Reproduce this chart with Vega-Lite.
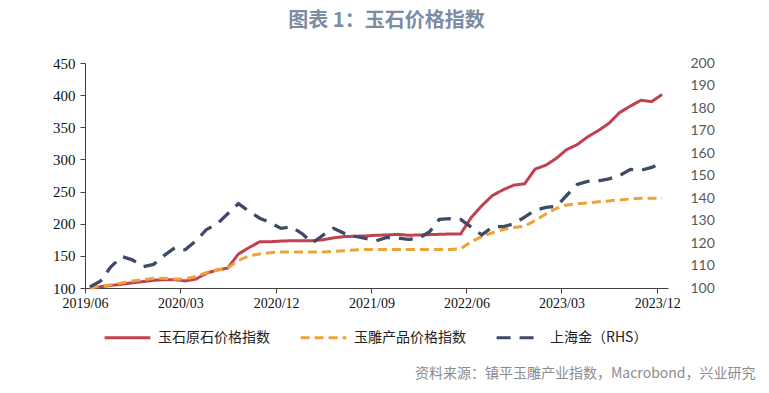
{
  "$schema": "https://vega.github.io/schema/vega-lite/v6.json",
  "width": 583,
  "height": 225,
  "autosize": "none",
  "padding": {"left": 85, "top": 63, "right": 101, "bottom": 105},
  "background": "white",
  "title": {
    "text": "图表 1：玉石价格指数",
    "font": "Noto Sans CJK SC",
    "fontSize": 20,
    "fontWeight": "bold",
    "color": "#7D8CA3",
    "anchor": "middle",
    "frame": "group",
    "dx": 10,
    "offset": 25
  },
  "data": {
    "values": [
      {"date": "2019-06-15", "玉石原石价格指数": 100, "玉雕产品价格指数": 100, "上海金（RHS）": 100.5},
      {"date": "2019-07-15", "玉石原石价格指数": 102, "玉雕产品价格指数": 103, "上海金（RHS）": 103},
      {"date": "2019-08-15", "玉石原石价格指数": 104, "玉雕产品价格指数": 105, "上海金（RHS）": 109.5},
      {"date": "2019-09-15", "玉石原石价格指数": 106, "玉雕产品价格指数": 108, "上海金（RHS）": 114},
      {"date": "2019-10-15", "玉石原石价格指数": 108, "玉雕产品价格指数": 111, "上海金（RHS）": 112.5},
      {"date": "2019-11-15", "玉石原石价格指数": 110, "玉雕产品价格指数": 113, "上海金（RHS）": 109.5},
      {"date": "2019-12-15", "玉石原石价格指数": 112, "玉雕产品价格指数": 115, "上海金（RHS）": 110.5},
      {"date": "2020-01-15", "玉石原石价格指数": 113, "玉雕产品价格指数": 115, "上海金（RHS）": 114.5},
      {"date": "2020-02-15", "玉石原石价格指数": 113, "玉雕产品价格指数": 114, "上海金（RHS）": 118},
      {"date": "2020-03-15", "玉石原石价格指数": 111, "玉雕产品价格指数": 114, "上海金（RHS）": 117},
      {"date": "2020-04-15", "玉石原石价格指数": 114, "玉雕产品价格指数": 118, "上海金（RHS）": 121},
      {"date": "2020-05-15", "玉石原石价格指数": 123, "玉雕产品价格指数": 124, "上海金（RHS）": 126},
      {"date": "2020-06-15", "玉石原石价格指数": 128, "玉雕产品价格指数": 128, "上海金（RHS）": 128.5},
      {"date": "2020-07-15", "玉石原石价格指数": 131, "玉雕产品价格指数": 131, "上海金（RHS）": 133},
      {"date": "2020-08-15", "玉石原石价格指数": 153, "玉雕产品价格指数": 143, "上海金（RHS）": 137.5},
      {"date": "2020-09-15", "玉石原石价格指数": 163, "玉雕产品价格指数": 150, "上海金（RHS）": 134},
      {"date": "2020-10-15", "玉石原石价格指数": 172, "玉雕产品价格指数": 153, "上海金（RHS）": 131},
      {"date": "2020-11-15", "玉石原石价格指数": 172, "玉雕产品价格指数": 155, "上海金（RHS）": 129},
      {"date": "2020-12-15", "玉石原石价格指数": 173, "玉雕产品价格指数": 156, "上海金（RHS）": 126.5},
      {"date": "2021-01-15", "玉石原石价格指数": 173.5, "玉雕产品价格指数": 156, "上海金（RHS）": 127.2},
      {"date": "2021-02-15", "玉石原石价格指数": 173.5, "玉雕产品价格指数": 156, "上海金（RHS）": 124},
      {"date": "2021-03-15", "玉石原石价格指数": 173.6, "玉雕产品价格指数": 156, "上海金（RHS）": 120},
      {"date": "2021-04-15", "玉石原石价格指数": 175, "玉雕产品价格指数": 156, "上海金（RHS）": 123.5},
      {"date": "2021-05-15", "玉石原石价格指数": 178, "玉雕产品价格指数": 157, "上海金（RHS）": 126.5},
      {"date": "2021-06-15", "玉石原石价格指数": 180, "玉雕产品价格指数": 158, "上海金（RHS）": 124.3},
      {"date": "2021-07-15", "玉石原石价格指数": 180.5, "玉雕产品价格指数": 159, "上海金（RHS）": 123},
      {"date": "2021-08-15", "玉石原石价格指数": 181, "玉雕产品价格指数": 160, "上海金（RHS）": 122},
      {"date": "2021-09-15", "玉石原石价格指数": 182, "玉雕产品价格指数": 160, "上海金（RHS）": 121},
      {"date": "2021-10-15", "玉石原石价格指数": 182.5, "玉雕产品价格指数": 160, "上海金（RHS）": 122.5},
      {"date": "2021-11-15", "玉石原石价格指数": 183.5, "玉雕产品价格指数": 160, "上海金（RHS）": 122.3},
      {"date": "2021-12-15", "玉石原石价格指数": 182, "玉雕产品价格指数": 160, "上海金（RHS）": 121.6},
      {"date": "2022-01-15", "玉石原石价格指数": 182.5, "玉雕产品价格指数": 160, "上海金（RHS）": 122},
      {"date": "2022-02-15", "玉石原石价格指数": 183, "玉雕产品价格指数": 160, "上海金（RHS）": 125},
      {"date": "2022-03-15", "玉石原石价格指数": 183.5, "玉雕产品价格指数": 160, "上海金（RHS）": 130.5},
      {"date": "2022-04-15", "玉石原石价格指数": 184, "玉雕产品价格指数": 160, "上海金（RHS）": 130.8},
      {"date": "2022-05-15", "玉石原石价格指数": 184, "玉雕产品价格指数": 161, "上海金（RHS）": 130.5},
      {"date": "2022-06-15", "玉石原石价格指数": 210, "玉雕产品价格指数": 172, "上海金（RHS）": 127},
      {"date": "2022-07-15", "玉石原石价格指数": 228, "玉雕产品价格指数": 180, "上海金（RHS）": 123.6},
      {"date": "2022-08-15", "玉石原石价格指数": 244, "玉雕产品价格指数": 186, "上海金（RHS）": 127.2},
      {"date": "2022-09-15", "玉石原石价格指数": 253, "玉雕产品价格指数": 191, "上海金（RHS）": 127.3},
      {"date": "2022-10-15", "玉石原石价格指数": 260, "玉雕产品价格指数": 194, "上海金（RHS）": 128.5},
      {"date": "2022-11-15", "玉石原石价格指数": 262, "玉雕产品价格指数": 196, "上海金（RHS）": 131.5},
      {"date": "2022-12-15", "玉石原石价格指数": 285, "玉雕产品价格指数": 205, "上海金（RHS）": 134.5},
      {"date": "2023-01-15", "玉石原石价格指数": 291, "玉雕产品价格指数": 215, "上海金（RHS）": 135.8},
      {"date": "2023-02-15", "玉石原石价格指数": 302, "玉雕产品价格指数": 224, "上海金（RHS）": 136.4},
      {"date": "2023-03-15", "玉石原石价格指数": 315, "玉雕产品价格指数": 229, "上海金（RHS）": 141},
      {"date": "2023-04-15", "玉石原石价格指数": 323, "玉雕产品价格指数": 231, "上海金（RHS）": 146},
      {"date": "2023-05-15", "玉石原石价格指数": 335, "玉雕产品价格指数": 232.5, "上海金（RHS）": 147.4},
      {"date": "2023-06-15", "玉石原石价格指数": 345, "玉雕产品价格指数": 234, "上海金（RHS）": 147.6},
      {"date": "2023-07-15", "玉石原石价格指数": 356, "玉雕产品价格指数": 235.5, "上海金（RHS）": 148.5},
      {"date": "2023-08-15", "玉石原石价格指数": 373, "玉雕产品价格指数": 237, "上海金（RHS）": 150},
      {"date": "2023-09-15", "玉石原石价格指数": 383, "玉雕产品价格指数": 238.5, "上海金（RHS）": 152.7},
      {"date": "2023-10-15", "玉石原石价格指数": 392, "玉雕产品价格指数": 239.5, "上海金（RHS）": 152.3},
      {"date": "2023-11-15", "玉石原石价格指数": 390, "玉雕产品价格指数": 239.5, "上海金（RHS）": 153.6},
      {"date": "2023-12-15", "玉石原石价格指数": 401, "玉雕产品价格指数": 239.5, "上海金（RHS）": 155.7}
    ]
  },
  "transform": [
    {"fold": ["玉石原石价格指数", "玉雕产品价格指数", "上海金（RHS）"], "as": ["series", "value"]}
  ],
  "encoding": {
    "x": {
      "field": "date",
      "type": "temporal",
      "scale": {"domain": [{"year": 2019, "month": 6, "date": 1}, {"year": 2024, "month": 1, "date": 1}], "nice": false},
      "axis": {
        "values": [
          {"year": 2019, "month": 6, "date": 1},
          {"year": 2020, "month": 3, "date": 1},
          {"year": 2020, "month": 12, "date": 1},
          {"year": 2021, "month": 9, "date": 1},
          {"year": 2022, "month": 6, "date": 1},
          {"year": 2023, "month": 3, "date": 1},
          {"year": 2023, "month": 12, "date": 1}
        ],
        "format": "%Y/%m",
        "labelFont": "Liberation Serif",
        "labelFontSize": 14,
        "labelColor": "#111",
        "labelPadding": 3,
        "labelFlush": false,
        "labelOverlap": false,
        "domainColor": "#404040",
        "tickColor": "#404040",
        "tickSize": 5,
        "grid": false,
        "title": "资料来源：镇平玉雕产业指数，Macrobond，兴业研究",
        "titleFont": "Noto Sans CJK SC",
        "titleFontSize": 14,
        "titleFontWeight": "normal",
        "titleColor": "#8C8C8C",
        "titleAlign": "right",
        "titleBaseline": "middle",
        "titleX": 670,
        "titleY": 85
      }
    },
    "color": {
      "field": "series",
      "type": "nominal",
      "title": null,
      "scale": {
        "domain": ["玉石原石价格指数", "玉雕产品价格指数", "上海金（RHS）"],
        "range": ["#C0424F", "#EDA33A", "#3E4B66"]
      }
    },
    "strokeDash": {
      "field": "series",
      "type": "nominal",
      "title": null,
      "scale": {
        "domain": ["玉石原石价格指数", "玉雕产品价格指数", "上海金（RHS）"],
        "range": [[1, 0], [9, 5], [14, 9]]
      }
    }
  },
  "layer": [
    {
      "transform": [{"filter": {"field": "series", "oneOf": ["玉石原石价格指数", "玉雕产品价格指数"]}}],
      "mark": {"type": "line", "strokeWidth": 3},
      "encoding": {
        "y": {
          "field": "value",
          "type": "quantitative",
          "scale": {"domain": [100, 450], "nice": false, "zero": false},
          "axis": {
            "values": [100, 150, 200, 250, 300, 350, 400, 450],
            "labelFont": "Liberation Serif",
            "labelFontSize": 15,
            "labelColor": "#111",
            "labelPadding": 5,
            "domainColor": "#404040",
            "tickColor": "#404040",
            "tickSize": 5,
            "grid": false,
            "title": null
          }
        }
      }
    },
    {
      "transform": [{"filter": {"field": "series", "equal": "上海金（RHS）"}}],
      "mark": {"type": "line", "strokeWidth": 3.3},
      "encoding": {
        "y": {
          "field": "value",
          "type": "quantitative",
          "scale": {"domain": [100, 200], "nice": false, "zero": false},
          "axis": {
            "orient": "right",
            "values": [100, 110, 120, 130, 140, 150, 160, 170, 180, 190, 200],
            "labelFont": "Lato",
            "labelFontSize": 14,
            "labelColor": "#595959",
            "labelPadding": 22,
            "domain": false,
            "ticks": false,
            "grid": false,
            "title": null
          }
        }
      }
    }
  ],
  "resolve": {"scale": {"y": "independent"}},
  "config": {
    "view": {"stroke": null},
    "legend": {
      "orient": "none",
      "legendX": 18,
      "legendY": 250,
      "direction": "horizontal",
      "symbolType": "stroke",
      "symbolSize": 2100,
      "symbolStrokeWidth": 3,
      "labelFont": "Noto Sans CJK SC",
      "labelFontSize": 14,
      "labelColor": "#222",
      "labelOffset": 6,
      "columnPadding": 24,
      "labelLimit": 300
    }
  }
}
